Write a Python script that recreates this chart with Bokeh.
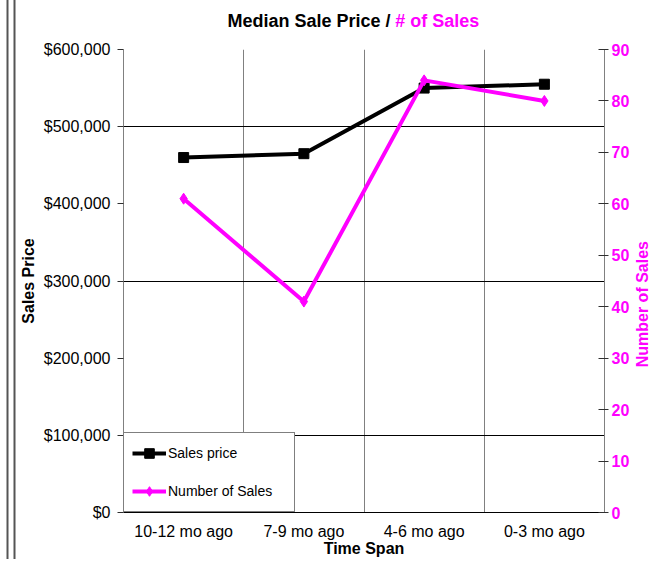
import math
from bokeh.plotting import figure
from bokeh.models import (Range1d, FactorRange, LinearAxis, FixedTicker, NumeralTickFormatter,
                          Legend, LegendItem, Label, ColumnDataSource)
from bokeh.embed import file_html
from bokeh.resources import INLINE

# ---- data ----
categories = ["10-12 mo ago", "7-9 mo ago", "4-6 mo ago", "0-3 mo ago"]
sales_price = [460000, 465000, 550000, 555000]
number_of_sales = [61, 41, 84, 80]
price_ticks = [0, 100000, 200000, 300000, 400000, 500000, 600000]
price_grid = [100000, 300000, 500000, 600000]
count_ticks = [0, 10, 20, 30, 40, 50, 60, 70, 80, 90]
category_boundaries = [1, 2, 3]

FONT = "Liberation Sans"
MAGENTA = "#FF00FF"

src = ColumnDataSource(dict(cat=categories, price=sales_price, count=number_of_sales))

p = figure(x_range=FactorRange(*categories), y_range=Range1d(0, 600000),
           width=651, height=559, output_backend="svg", toolbar_location=None,
           min_border_left=123, min_border_right=47, min_border_top=49, min_border_bottom=47)
p.outline_line_color = None
p.background_fill_color = "white"
p.border_fill_color = "white"
p.border_fill_alpha = 0
# double frame line on the chart's left edge (drawn as CSS inset shadows)
p.styles = {"box-shadow": "inset 6.5px 0 0 #ffffff, inset 8.5px 0 0 #555555, "
                          "inset 13.5px 0 0 #ffffff, inset 15.5px 0 0 #555555",
            "background-color": "white"}
p.extra_y_ranges = {"count": Range1d(0, 90)}

# grids
p.xgrid.ticker = FixedTicker(ticks=category_boundaries)
p.xgrid.grid_line_color = "#808080"
p.xgrid.grid_line_width = 1
p.ygrid.ticker = FixedTicker(ticks=price_grid)
p.ygrid.grid_line_color = "black"
p.ygrid.grid_line_width = 1

# bottom axis
xa = p.xaxis[0]
xa.axis_line_color = "black"
xa.major_tick_line_color = None
xa.major_tick_out = 0
xa.major_label_standoff = 10
xa.major_label_text_font = FONT
xa.major_label_text_font_size = "16px"
xa.major_label_text_color = "black"
xa.axis_label = "Time Span"
xa.axis_label_text_font = FONT
xa.axis_label_text_font_style = "bold"
xa.axis_label_text_font_size = "16px"
xa.axis_label_text_color = "black"
xa.axis_label_standoff = -3

# left axis
ya = p.yaxis[0]
ya.ticker = FixedTicker(ticks=price_ticks)
ya.formatter = NumeralTickFormatter(format="$0,0")
ya.axis_line_color = "#808080"
ya.major_tick_line_color = "#303030"
ya.major_tick_out = 6
ya.major_tick_in = 0
ya.minor_tick_line_color = None
ya.major_label_standoff = 7
ya.major_label_text_font = FONT
ya.major_label_text_font_size = "16px"
ya.major_label_text_color = "black"
ya.axis_label = "Sales Price"
ya.axis_label_text_font = FONT
ya.axis_label_text_font_style = "bold"
ya.axis_label_text_font_size = "16px"
ya.axis_label_text_color = "black"
ya.axis_label_standoff = 4

# right axis
ra = LinearAxis(y_range_name="count", ticker=FixedTicker(ticks=count_ticks))
ra.axis_line_color = "#808080"
ra.major_tick_line_color = "#303030"
ra.major_tick_out = 4
ra.major_tick_in = 6
ra.minor_tick_line_color = None
ra.major_label_standoff = 3
ra.major_label_text_font = FONT
ra.major_label_text_font_style = "bold"
ra.major_label_text_font_size = "16px"
ra.major_label_text_color = MAGENTA
p.add_layout(ra, "right")

# series
l1 = p.line("cat", "price", source=src, line_color="black", line_width=4)
s1 = p.scatter("cat", "price", source=src, marker="square", size=10,
               fill_color="black", line_color="black")
l2 = p.line("cat", "count", source=src, y_range_name="count", line_color=MAGENTA, line_width=4)
s2 = p.scatter("cat", "count", source=src, y_range_name="count", marker="diamond", size=11,
               fill_color=MAGENTA, line_color=MAGENTA)

legend = Legend(items=[LegendItem(label="Sales price", renderers=[l1, s1]),
                       LegendItem(label="Number of Sales", renderers=[l2, s2])],
                location=(0, 0), orientation="vertical", margin=0, padding=8, spacing=14,
                glyph_width=34, glyph_height=24, label_height=24, label_width=118,
                label_standoff=2, label_text_font=FONT, label_text_font_size="14px",
                label_text_color="black", border_line_color="black", border_line_width=1,
                background_fill_color="white", background_fill_alpha=1)
p.add_layout(legend)

# title in two colours (placed in the top panel so it is not clipped by the frame)
TITLE_Y = 637500
p.add_layout(Label(x=2.22, y=TITLE_Y, text="Median Sale Price /",
                   text_align="right", text_baseline="middle", text_font=FONT,
                   text_font_style="bold", text_font_size="18px", text_color="black"), "above")
p.add_layout(Label(x=2.26, y=TITLE_Y, text="# of Sales",
                   text_align="left", text_baseline="middle", text_font=FONT,
                   text_font_style="bold", text_font_size="18px", text_color=MAGENTA), "above")

# right-hand axis title, reading bottom to top
p.add_layout(Label(x=4.316, y=270000, text="Number of Sales", angle=math.pi / 2,
                   text_align="center", text_baseline="middle", text_font=FONT,
                   text_font_style="bold", text_font_size="16px", text_color=MAGENTA), "right")

open("out.html", "w").write(file_html(p, INLINE))
